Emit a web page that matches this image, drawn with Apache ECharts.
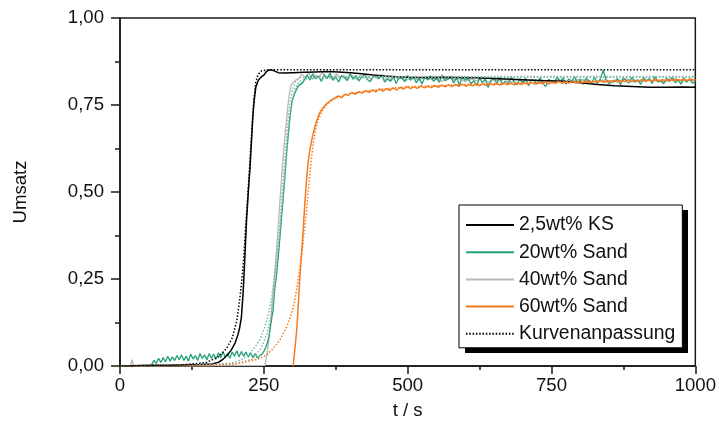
<!DOCTYPE html>
<html>
<head>
<meta charset="utf-8">
<script src="https://cdn.jsdelivr.net/npm/echarts@6/dist/echarts.min.js"></script>
<style>html,body{margin:0;padding:0;background:#fff}#c{width:719px;height:426px}</style>
</head>
<body>
<div id="c"></div>
<script>
const seriesNames = ['2,5wt% KS','20wt% Sand','40wt% Sand','60wt% Sand','Kurvenanpassung'];
const xTicks = [0,250,500,750,1000];
const yTicks = [0,0.25,0.5,0.75,1];

const ks = [[0,0],[20,0.001],[50,0.002],[80,0.002],[110,0.003],[140,0.004],[160,0.006],[170,0.01],[178,0.018],[186,0.03],[193,0.045],[200,0.066],[205,0.09],[208,0.11],[211,0.14],[214,0.21],[217,0.31],[220,0.42],[223,0.5],[226,0.57],[229,0.66],[231,0.72],[233,0.76],[236,0.8],[240,0.82],[245,0.83],[250,0.836],[254,0.845],[258,0.85],[263,0.851],[268,0.848],[275,0.843],[285,0.842],[300,0.843],[320,0.844],[340,0.845],[360,0.846],[380,0.845],[400,0.843],[420,0.84],[440,0.836],[460,0.833],[480,0.831],[500,0.83],[530,0.829],[560,0.83],[590,0.829],[620,0.828],[650,0.826],[680,0.824],[710,0.822],[740,0.82],[770,0.818],[800,0.814],[830,0.809],[860,0.805],[890,0.803],[920,0.801],[950,0.801],[980,0.802],[1000,0.801]];

const ksFit = [[0,0],[100,0.002],[150,0.01],[170,0.025],[185,0.05],[195,0.08],[203,0.13],[208,0.19],[212,0.25],[215,0.31],[218,0.39],[221,0.46],[224,0.54],[227,0.62],[230,0.7],[233,0.77],[236,0.815],[240,0.838],[246,0.848],[255,0.851],[1000,0.851]];

const sand20 = [[55,0.004],[59,0.016],[63,0.008],[67,0.022],[71,0.01],[75,0.024],[79,0.012],[83,0.028],[87,0.014],[91,0.026],[95,0.016],[99,0.03],[103,0.018],[107,0.032],[111,0.016],[115,0.028],[119,0.014],[123,0.034],[127,0.02],[131,0.03],[135,0.016],[139,0.036],[143,0.022],[147,0.032],[151,0.018],[155,0.036],[159,0.022],[163,0.034],[167,0.02],[171,0.038],[175,0.024],[179,0.04],[183,0.026],[187,0.036],[191,0.022],[195,0.04],[199,0.028],[203,0.044],[207,0.026],[211,0.042],[215,0.028],[219,0.04],[223,0.026],[227,0.038],[231,0.024],[235,0.036],[239,0.022],[243,0.03],[247,0.034],
[251,0.045],[255,0.06],[259,0.085],[263,0.13],[266,0.16],[269,0.22],[272,0.26],[276,0.33],[281,0.43],[286,0.53],[290,0.62],[295,0.71],[299,0.76],[304,0.785],[310,0.805],[318,0.815],
[325,0.836],[330,0.822],[335,0.840],[340,0.825],[345,0.833],[350,0.818],[355,0.837],[360,0.826],[365,0.842],[370,0.821],[375,0.831],[380,0.816],[385,0.834],[390,0.829],[395,0.820],[400,0.839],[405,0.824],[410,0.835],[415,0.819],[420,0.830],[425,0.838],[430,0.823],[435,0.817],[440,0.832],[445,0.836],[450,0.825],
[455,0.837],[460,0.816],[465,0.825],[470,0.818],[475,0.833],[480,0.812],[485,0.829],[490,0.826],[495,0.817],[500,0.835],[505,0.821],[510,0.830],[515,0.814],[520,0.828],[525,0.810],[530,0.831],[535,0.822],[540,0.834],[545,0.818],[550,0.827],[555,0.815],[560,0.836],[565,0.820],[570,0.824],[575,0.832],[580,0.813],[585,0.829],[590,0.808],[595,0.830],[600,0.821],
[605,0.827],[610,0.811],[615,0.820],[620,0.806],[625,0.828],[630,0.814],[635,0.824],[640,0.800],[645,0.821],[650,0.826],[655,0.813],[660,0.829],[665,0.809],[670,0.819],[675,0.812],[680,0.831],[685,0.816],[690,0.808],[695,0.825],[700,0.814],[705,0.827],[710,0.805],[715,0.822],[720,0.820],[725,0.810],[730,0.828],[735,0.813],[740,0.803],[745,0.824],[750,0.819],
[755,0.813],[760,0.831],[765,0.817],[770,0.828],[775,0.810],[780,0.825],[785,0.818],[790,0.832],[795,0.814],[800,0.823],[805,0.809],[810,0.827],[815,0.820],[820,0.815],[825,0.829],[830,0.812],[835,0.825],[840,0.850],[845,0.822],[850,0.811],[855,0.816],[860,0.817],[865,0.826],[870,0.808],[875,0.828],[880,0.819],[885,0.813],[890,0.830],[895,0.815],[900,0.823],[905,0.809],[910,0.829],[915,0.818],[920,0.826],[925,0.812],[930,0.832],[935,0.816],[940,0.821],[945,0.811],[950,0.827],[955,0.817],[960,0.830],[965,0.814],[970,0.822],[975,0.810],[980,0.828],[985,0.816],[990,0.825],[995,0.813],[1000,0.818]];

const sand20Fit = [[0,0],[150,0.002],[190,0.008],[202,0.012],[215,0.022],[226,0.037],[235,0.055],[243,0.075],[249,0.1],[255,0.13],[260,0.165],[264,0.2],[268,0.25],[272,0.3],[276,0.36],[280,0.43],[284,0.5],[288,0.58],[292,0.66],[296,0.72],[300,0.77],[305,0.8],[312,0.818],[325,0.826],[400,0.83],[1000,0.83]];

const sand40 = [[0,0],[18,0],[21,0.018],[24,0],[252,0.002],[256,0.04],[259,0.08],[262,0.13],[265,0.19],[268,0.25],[271,0.31],[274,0.38],[277,0.45],[280,0.52],[283,0.59],[286,0.65],[289,0.7],[292,0.75],[295,0.79],[298,0.81],[304,0.82],
[310,0.826],[316,0.838],[322,0.829],[328,0.842],[334,0.824],[340,0.836],[346,0.830],[352,0.845],[358,0.827],[364,0.834],[370,0.822],[376,0.840],[382,0.828],[388,0.836],[394,0.825],[400,0.838],[406,0.830],[412,0.823],[418,0.835],[424,0.827],[430,0.833],[436,0.824],[442,0.831],[448,0.826],[454,0.834],[460,0.822],[466,0.829],[472,0.820],[478,0.832],[484,0.824],[490,0.830],[496,0.821],
[510,0.828],[520,0.821],[530,0.831],[540,0.823],[550,0.827],[560,0.818],[570,0.829],[580,0.822],[590,0.826],[600,0.817],[610,0.825],[620,0.820],[630,0.827],[640,0.816],[650,0.823],[660,0.819],[670,0.826],[680,0.815],[690,0.824],[700,0.818],[720,0.822],[740,0.815],[760,0.823],[780,0.817],[800,0.824],[820,0.816],[840,0.822],[860,0.818],[880,0.825],[900,0.817],[920,0.823],[940,0.816],[960,0.824],[980,0.819],[1000,0.822]];

const sand40Fit = [[0,0],[200,0.005],[230,0.02],[245,0.05],[255,0.09],[262,0.14],[267,0.2],[271,0.27],[275,0.35],[279,0.43],[283,0.52],[287,0.61],[291,0.69],[295,0.75],[299,0.79],[304,0.815],[312,0.828],[330,0.832],[1000,0.832]];

const sand60 = [[301,0],[304,0.05],[307,0.1],[309,0.15],[312,0.24],[315,0.31],[318,0.38],[321,0.46],[324,0.53],[327,0.585],[330,0.62],[334,0.655],[339,0.69],[343,0.71],[347,0.727],[352,0.74],[359,0.754],[366,0.763],[373,0.77],
[379,0.776],[385,0.771],[391,0.781],[397,0.778],[403,0.786],[409,0.781],[415,0.788],[421,0.784],[427,0.791],[433,0.786],[439,0.793],[445,0.788],[451,0.796],[457,0.790],[463,0.797],[469,0.792],[475,0.799],[481,0.793],[487,0.801],[493,0.796],[499,0.803],[505,0.797],[511,0.802],[517,0.798],[523,0.805],[529,0.799],[535,0.804],[541,0.800],[547,0.806],[553,0.801],[559,0.807],[565,0.802],[571,0.808],[577,0.803],[583,0.809],[589,0.804],[595,0.810],[601,0.804],[607,0.809],[613,0.805],[619,0.811],[625,0.806],[631,0.810],[637,0.806],[643,0.812],[649,0.807],[655,0.811],[661,0.807],[667,0.813],[673,0.808],[679,0.812],[685,0.808],[691,0.814],[697,0.809],[703,0.813],[709,0.810],[715,0.815],[721,0.810],[727,0.814],[733,0.811],[739,0.816],[745,0.811],[751,0.815],[757,0.812],[763,0.817],[769,0.812],[775,0.816],[781,0.813],[787,0.818],[793,0.813],[799,0.817],[805,0.814],[811,0.819],[817,0.814],[823,0.818],[829,0.815],[835,0.820],[841,0.815],[847,0.819],[853,0.816],[859,0.821],[865,0.816],[871,0.820],[877,0.817],[883,0.822],[889,0.817],[895,0.821],[901,0.818],[907,0.823],[913,0.818],[919,0.822],[925,0.819],[931,0.824],[937,0.819],[943,0.823],[949,0.819],[955,0.824],[961,0.820],[967,0.825],[973,0.820],[979,0.824],[985,0.820],[991,0.825],[997,0.821],[1000,0.823]];

const sand60Fit = [[0,0],[150,0.001],[200,0.006],[220,0.012],[240,0.02],[255,0.032],[266,0.05],[278,0.075],[289,0.11],[298,0.15],[304,0.19],[309,0.24],[314,0.3],[318,0.35],[321,0.4],[324,0.44],[327,0.5],[330,0.55],[333,0.6],[336,0.64],[340,0.68],[345,0.71],[352,0.735],[360,0.752],[370,0.765],[385,0.776],[400,0.783],[450,0.795],[500,0.802],[600,0.809],[700,0.814],[800,0.818],[900,0.82],[1000,0.822]];

const FONT = 'Liberation Sans, Arial, Helvetica, sans-serif';
const FS = 18.6;
const LFS = 19.4;
const AX = '#1a1a1a';
const C_KS = '#000000', C_20 = '#23a07c', C_40 = '#b9b9b9', C_60 = '#f47b20';

function line(name, data, color, width, dotted) {
  return {
    name: name, type: 'line', data: data, symbol: 'none', showSymbol: false,
    animation: false, z: 2,
    lineStyle: { color: color, width: width, type: dotted ? [1.5, 1.8] : 'solid' },
    itemStyle: { color: color }
  };
}

const chart = echarts.init(document.getElementById('c'), null, { renderer: 'canvas' });
chart.setOption({
  animation: false,
  textStyle: { fontFamily: FONT },
  grid: { left: 120, right: 23, top: 18, bottom: 60, show: true, borderColor: AX, borderWidth: 1.5, backgroundColor: 'transparent' },
  graphic: [{
    type: 'rect', left: 465, top: 210, z: 3, silent: true,
    shape: { width: 223, height: 143 }, style: { fill: '#000' }
  }],
  xAxis: {
    type: 'value', min: xTicks[0], max: xTicks[xTicks.length - 1], interval: 250,
    name: 't / s', nameLocation: 'middle', nameGap: 35,
    nameTextStyle: { fontSize: FS, color: '#111', fontFamily: FONT },
    axisLine: { show: true, lineStyle: { color: AX, width: 1.5 } },
    axisTick: { show: true, length: 8, lineStyle: { color: AX, width: 1.5 } },
    minorTick: { show: true, splitNumber: 2, length: 4, lineStyle: { color: AX, width: 1.5 } },
    splitLine: { show: false },
    axisLabel: { fontSize: FS, color: '#111', margin: 10, fontFamily: FONT, formatter: v => String(v) }
  },
  yAxis: {
    type: 'value', min: yTicks[0], max: yTicks[yTicks.length - 1], interval: 0.25,
    name: 'Umsatz', nameLocation: 'middle', nameGap: 90,
    nameTextStyle: { fontSize: FS, color: '#111', fontFamily: FONT },
    axisLine: { show: true, lineStyle: { color: AX, width: 1.5 } },
    axisTick: { show: true, length: 9, lineStyle: { color: AX, width: 1.5 } },
    minorTick: { show: true, splitNumber: 2, length: 5, lineStyle: { color: AX, width: 1.5 } },
    splitLine: { show: false },
    axisLabel: { fontSize: FS, color: '#111', margin: 16, fontFamily: FONT,
      formatter: v => v.toFixed(2).replace('.', ',') }
  },
  legend: {
    show: true, z: 5,
    data: seriesNames, orient: 'vertical', left: 459, top: 205,
    padding: [10, 7, 4, 6], itemWidth: 48, itemHeight: 20, itemGap: 7.2,
    backgroundColor: '#fff', borderColor: '#000', borderWidth: 1,
    itemStyle: { opacity: 0, borderWidth: 0 },
    textStyle: { fontSize: LFS, color: '#111', fontFamily: FONT, lineHeight: 20 },
    selectedMode: false
  },
  series: [
    line('40wt% Sand', sand40, C_40, 1.3, false),
    line('20wt% Sand', sand20, C_20, 1.3, false),
    line('2,5wt% KS', ks, C_KS, 1.5, false),
    line('60wt% Sand', sand60, C_60, 1.5, false),
    line('fit40', sand40Fit, '#a8a8a8', 1.5, true),
    line('fit20', sand20Fit, '#6cc0a2', 1.5, true),
    line('fit60', sand60Fit, C_60, 1.5, true),
    line('Kurvenanpassung', ksFit, C_KS, 1.5, true)
  ]
});
</script>
</body>
</html>
